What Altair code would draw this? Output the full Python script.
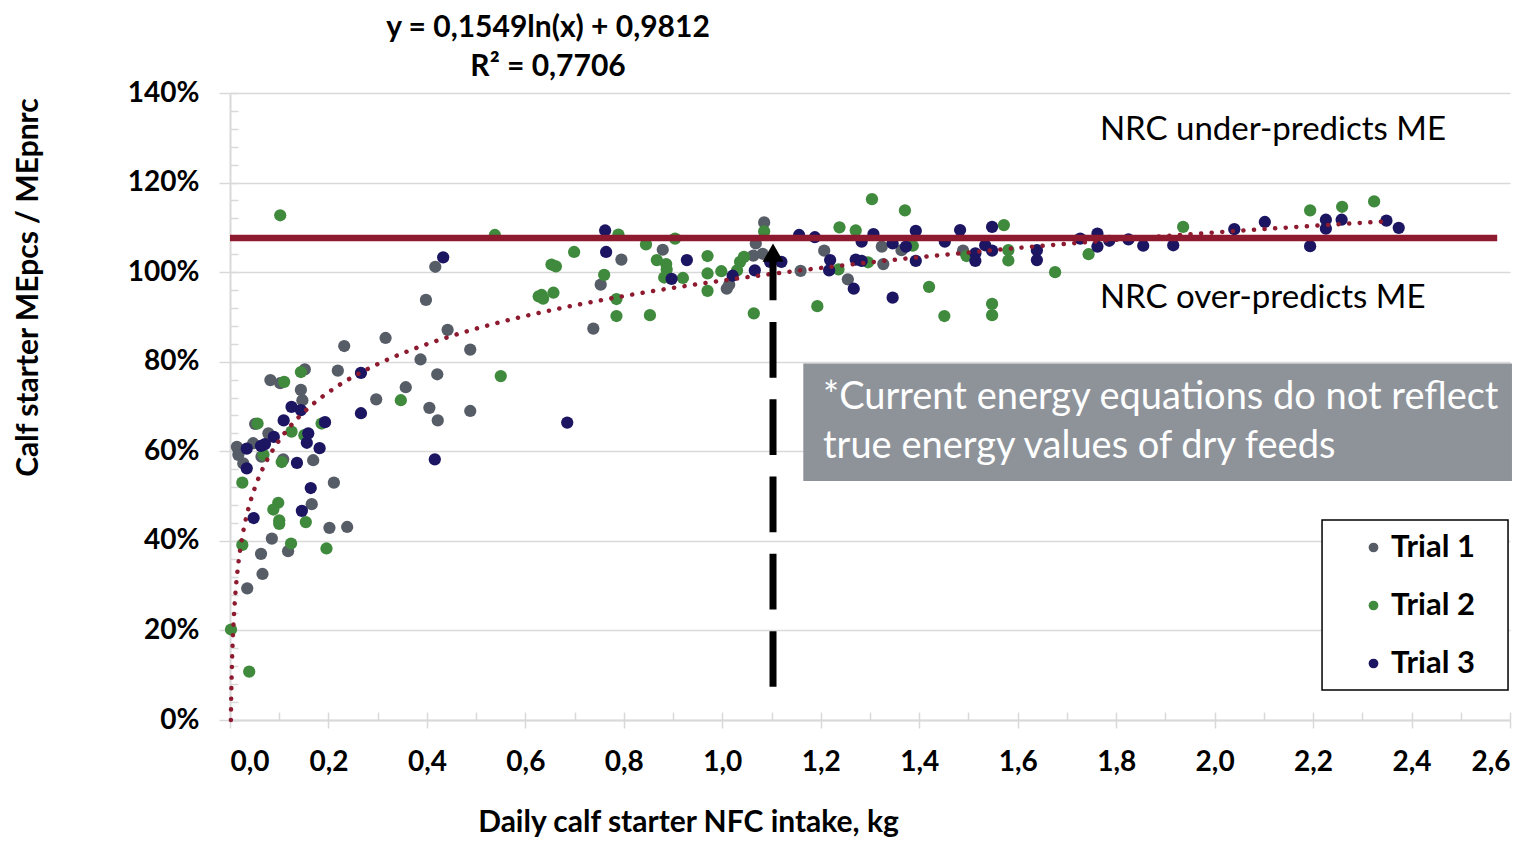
import math
import altair as alt
import pandas as pd

# ---------------- data ----------------
trial1_x = [0.232, 0.152, 0.219, 0.082, 0.102, 0.144, 0.147, 0.297, 0.051, 0.078, 0.014, 0.047, 0.064, 0.017,
            0.027, 0.108, 0.169, 0.211, 0.166, 0.202, 0.238, 0.085, 0.118, 0.063, 0.066, 0.035, 0.417, 0.398,
            0.442, 0.316, 0.488, 0.387, 0.421, 0.357, 0.405, 0.422, 0.488, 0.795, 0.753, 0.738, 0.879, 1.009,
            1.014, 1.085, 1.068, 1.063, 1.082, 1.159, 1.207, 1.255, 1.324, 1.327, 1.364, 1.489]
trial1_y = [0.835, 0.783, 0.780, 0.759, 0.752, 0.737, 0.714, 0.716, 0.661, 0.640, 0.610, 0.618, 0.588, 0.592,
            0.573, 0.582, 0.580, 0.530, 0.482, 0.429, 0.431, 0.405, 0.377, 0.371, 0.326, 0.294, 1.012, 0.938,
            0.871, 0.853, 0.827, 0.805, 0.772, 0.743, 0.697, 0.669, 0.690, 1.028, 0.972, 0.874, 1.050, 0.963,
            0.972, 1.111, 1.064, 1.037, 1.041, 1.003, 1.048, 0.984, 1.057, 1.018, 1.049, 1.048]

trial2_x = [0.144, 0.110, 0.056, 0.186, 0.125, 0.151, 0.068, 0.105, 0.025, 0.098, 0.088, 0.100, 0.100, 0.154,
            0.025, 0.124, 0.196, 0.002, 0.039, 0.102, 0.538, 0.653, 0.662, 0.633, 0.636, 0.657, 0.627, 0.550,
            0.347, 0.789, 0.699, 0.760, 0.785, 0.785, 0.853, 0.845, 0.904, 0.867, 0.886, 0.887, 0.882, 0.920,
            0.970, 0.970, 0.970, 0.998, 1.036, 1.044, 1.030, 1.064, 1.085, 1.236, 1.193, 1.238, 1.271, 1.304,
            1.371, 1.296, 1.387, 1.420, 1.451, 1.496, 1.572, 1.581, 1.581, 1.548, 1.548, 1.676, 1.744, 1.936,
            2.194, 2.259, 2.324]
trial2_y = [0.777, 0.755, 0.662, 0.662, 0.644, 0.636, 0.592, 0.576, 0.530, 0.485, 0.470, 0.446, 0.438, 0.442,
            0.391, 0.394, 0.383, 0.202, 0.108, 1.127, 1.083, 1.017, 1.013, 0.949, 0.941, 0.954, 0.946, 0.768,
            0.714, 1.084, 1.045, 0.994, 0.940, 0.902, 0.904, 1.062, 1.075, 1.027, 1.018, 1.006, 0.988, 0.987,
            1.036, 0.997, 0.958, 1.002, 1.023, 1.034, 1.004, 0.908, 1.091, 1.006, 0.924, 1.100, 1.093, 1.163,
            1.138, 1.022, 1.059, 0.967, 0.902, 1.036, 1.105, 1.049, 1.026, 0.929, 0.904, 1.000, 1.040, 1.101,
            1.138, 1.146, 1.158]

trial3_x = [0.266, 0.125, 0.144, 0.266, 0.109, 0.193, 0.159, 0.089, 0.156, 0.182, 0.034, 0.063, 0.071, 0.034,
            0.136, 0.164, 0.146, 0.048, 0.433, 0.416, 0.762, 0.764, 0.685, 0.897, 0.928, 1.021, 1.066, 1.097,
            1.120, 1.156, 1.188, 1.219, 1.217, 1.307, 1.283, 1.271, 1.283, 1.267, 1.346, 1.346, 1.373, 1.393,
            1.393, 1.452, 1.483, 1.514, 1.514, 1.534, 1.548, 1.548, 1.639, 1.639, 1.727, 1.762, 1.762, 1.786,
            1.825, 1.855, 1.916, 2.040, 2.102, 2.194, 2.226, 2.226, 2.258, 2.349, 2.374]
trial3_y = [0.775, 0.699, 0.692, 0.685, 0.669, 0.665, 0.640, 0.632, 0.619, 0.607, 0.606, 0.612, 0.616, 0.562,
            0.574, 0.518, 0.467, 0.451, 1.033, 0.582, 1.093, 1.045, 0.664, 0.985, 1.027, 0.992, 1.004, 1.023,
            1.023, 1.083, 1.078, 1.027, 1.004, 1.085, 1.068, 1.028, 1.025, 0.963, 1.064, 0.943, 1.057, 1.092,
            1.025, 1.068, 1.094, 1.042, 1.025, 1.060, 1.101, 1.048, 1.049, 1.027, 1.075, 1.086, 1.057, 1.070,
            1.073, 1.059, 1.060, 1.096, 1.112, 1.058, 1.117, 1.097, 1.117, 1.115, 1.099]

trial_names = ["Trial 1", "Trial 2", "Trial 3"]
trial_colors = ["#575D67", "#3F8A3C", "#1B1562"]

# logarithmic trend line shown on the chart
TREND_A = 0.1549
TREND_B = 0.9812
R2 = 0.7706
NRC_LEVEL = 1.076          # horizontal NRC reference line
NRC_LINE_END = 2.574
ARROW_X = 1.103
ARROW_BOTTOM = 0.074
ARROW_TOP = 1.031
ARROW_HEAD = 1.0435

x_label = "Daily calf starter NFC intake, kg"
y_label = "Calf starter MEpcs / MEpnrc"
note_lines = ["*Current energy equations do not reflect", "true energy values of dry feeds"]
under_text = "NRC under-predicts ME"
over_text = "NRC over-predicts ME"

FONT = "Lato"
DARK_RED = "#8E1A30"
GRID = "#D9D9D9"
BOX_GRAY = "#8E939A"

rows = []
for name, xs, ys in zip(trial_names, [trial1_x, trial2_x, trial3_x], [trial1_y, trial2_y, trial3_y]):
    for xv, yv in zip(xs, ys):
        rows.append({"trial": name, "x": xv, "y": yv})
df = pd.DataFrame(rows)

x_scale = alt.Scale(domain=[0, 2.6], nice=False, zero=False)
y_scale = alt.Scale(domain=[0, 1.4], nice=False, zero=False)

x_major = [round(0.2 * i, 1) for i in range(14)]
x_minor = [round(0.1 * i, 1) for i in range(27)]
y_major = [round(0.2 * i, 1) for i in range(8)]
y_minor = [round(0.04 * i, 2) for i in range(36)]

x_axis_main = alt.Axis(
    orient="bottom",
    values=x_major, labelExpr="replace(format(datum.value, '.1f'), '.', ',')",
    labelFont=FONT, labelFontSize=28, labelFontWeight="bold", labelColor="black",
    labelPadding=20, tickSize=8, tickColor=GRID, tickWidth=1.5,
    domainColor=GRID, domainWidth=2, grid=False,
    title=x_label, titleFont=FONT, titleFontSize=30, titleFontWeight="bold", titleColor="black",
    titleX=458, titleY=102, titleAlign="center", titleBaseline="middle", labelOverlap=False,
)
y_axis_main = alt.Axis(
    orient="left",
    values=y_major, format=".0%",
    labelFont=FONT, labelFontSize=28, labelFontWeight="bold", labelColor="black",
    labelPadding=20, tickSize=11, tickColor=GRID, tickWidth=1.5,
    domainColor=GRID, domainWidth=2, grid=True, gridColor=GRID, gridWidth=1.5,
    title=y_label, titleFont=FONT, titleFontSize=30, titleFontWeight="bold", titleColor="black",
    titleX=-187, titleY=194, titleAngle=270, titleAlign="center", titleBaseline="bottom", labelOverlap=False,
)
x_axis_minor = alt.Axis(orient="bottom", values=x_minor, offset=-8, tickSize=8, tickColor=GRID, tickWidth=1.5,
                        labels=False, domain=False, grid=False, title=None)
y_axis_minor = alt.Axis(orient="left", values=y_minor, offset=-8, tickSize=8, tickColor=GRID, tickWidth=1.5,
                        labels=False, domain=False, grid=False, title=None)

points = alt.Chart(df).mark_circle(size=150, opacity=1).encode(
    x=alt.X("x:Q", scale=x_scale, axis=x_axis_main),
    y=alt.Y("y:Q", scale=y_scale, axis=y_axis_main),
    color=alt.Color(
        "trial:N",
        scale=alt.Scale(domain=trial_names, range=trial_colors),
        legend=alt.Legend(
            title=None, orient="none", legendX=1092, legendY=425, padding=14,
            symbolType="circle", symbolSize=95, symbolStrokeWidth=0, symbolOffset=22,
            labelFont=FONT, labelFontSize=31, labelFontWeight="bold", labelColor="black",
            labelOffset=2, rowPadding=26,
        ),
    ),
)

minor_axes = alt.Chart(df).mark_circle(opacity=0).encode(
    x=alt.X("x:Q", scale=x_scale, axis=x_axis_minor),
    y=alt.Y("y:Q", scale=y_scale, axis=y_axis_minor),
)

all_x = trial1_x + trial2_x + trial3_x
t_start = -TREND_B / TREND_A
t_stop = math.log(max(all_x))
trend = (
    alt.Chart(alt.sequence(t_start, t_stop, 0.01, as_="t"))
    .transform_calculate(x="exp(datum.t)", y=f"{TREND_A} * datum.t + {TREND_B}")
    .mark_line(color=DARK_RED, strokeWidth=4.5, strokeDash=[0.1, 10.5], strokeCap="round")
    .encode(x=alt.X("x:Q", axis=None), y=alt.Y("y:Q", axis=None))
)

hline = alt.Chart(pd.DataFrame({"level": [NRC_LEVEL]})).mark_rule(color=DARK_RED, strokeWidth=6.5).encode(
    y=alt.Y("level:Q", axis=None),
    x=alt.XDatum(0.0, axis=None),
    x2=alt.X2Datum(NRC_LINE_END),
)

arrow_line = alt.Chart(pd.DataFrame({"ax": [ARROW_X]})).mark_rule(
    color="black", strokeWidth=7, strokeDash=[55.7, 21.6]
).encode(
    x=alt.X("ax:Q", axis=None),
    y=alt.YDatum(ARROW_BOTTOM, axis=None),
    y2=alt.Y2Datum(ARROW_TOP),
)
arrow_head = alt.Chart(pd.DataFrame({"ax": [ARROW_X]})).mark_point(
    shape="triangle-up", filled=True, size=441, color="black", opacity=1, strokeWidth=0
).encode(
    x=alt.X("ax:Q", axis=None),
    y=alt.YDatum(ARROW_HEAD, axis=None),
)

box = alt.Chart(pd.DataFrame({"k": [0]})).mark_rect(color=BOX_GRAY).encode(
    x=alt.XDatum(1.1645, axis=None), x2=alt.X2Datum(2.604),
    y=alt.YDatum(0.7962, axis=None), y2=alt.Y2Datum(0.5335),
)

# white legend frame with black border
legend_frame = alt.Chart(pd.DataFrame({"k": [0]})).mark_rect(
    fill="white", stroke="black", strokeWidth=1.5
).encode(
    x=alt.XDatum(2.2182, axis=None), x2=alt.X2Datum(2.596),
    y=alt.YDatum(0.4464, axis=None), y2=alt.Y2Datum(0.067),
)

def text_layer(txt, xv, yv, size, weight="normal", color="black", align="left"):
    return alt.Chart(pd.DataFrame({"k": [0]})).mark_text(
        text=txt, font=FONT, fontSize=size, fontWeight=weight, color=color,
        align=align, baseline="middle",
    ).encode(x=alt.XDatum(xv, axis=None), y=alt.YDatum(yv, axis=None))

note1 = text_layer(note_lines[0], 1.2045, 0.7188, 38, color="white")
note2 = text_layer(note_lines[1], 1.2045, 0.6094, 38, color="white")
under = text_layer(under_text, 1.767, 1.317, 33)
over = text_layer(over_text, 1.767, 0.942, 33)
eq_text = f"y = {TREND_A:.4f}ln(x) + {TREND_B:.4f}".replace(".", ",")
r2_text = f"R² = {R2:.4f}".replace(".", ",")
eq1 = text_layer(eq_text, 0.646, 1.545, 30, weight="bold", align="center")
eq2 = text_layer(r2_text, 0.646, 1.457, 30, weight="bold", align="center")

chart = (
    alt.layer(points, minor_axes, trend, hline, arrow_line, arrow_head, box, legend_frame,
              note1, note2, under, over, eq1, eq2)
    .resolve_axis(x="independent", y="independent")
    .properties(
        width=1280, height=627,
        autosize=alt.AutoSizeParams(type="none"),
        padding={"left": 222, "top": 85, "right": 22, "bottom": 125},
        background="white",
    )
    .configure_view(stroke=None)
)

chart.save("out.html", embed_options={"renderer": "svg", "actions": False})
